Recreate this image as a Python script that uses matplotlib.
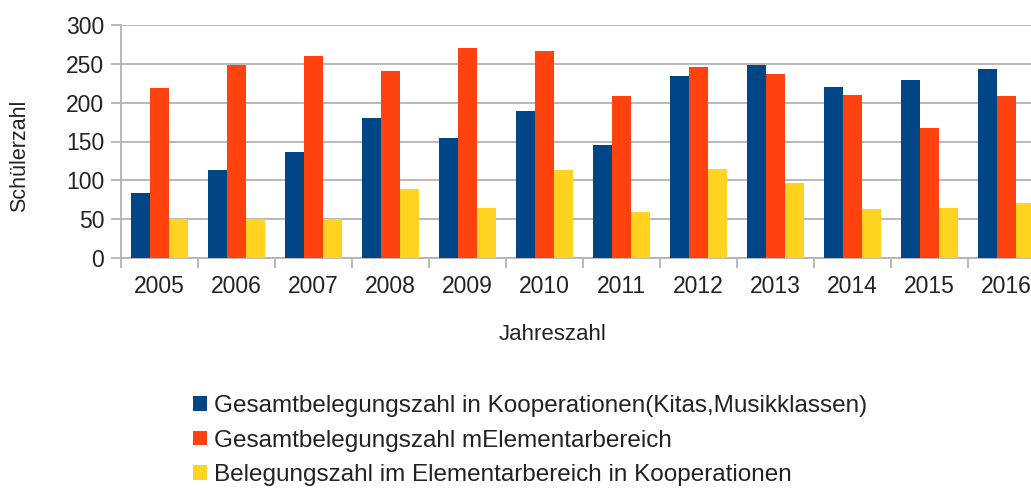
import matplotlib
matplotlib.use("Agg")
import matplotlib.pyplot as plt
import numpy as np
from matplotlib.patches import Patch

years = ["2005", "2006", "2007", "2008", "2009", "2010", "2011", "2012", "2013", "2014", "2015", "2016"]
gesamt_koop = [84, 113, 136, 180, 155, 189, 145, 234, 249, 220, 229, 243]
gesamt_elem = [219, 249, 260, 241, 270, 267, 208, 246, 237, 210, 167, 208]
elem_koop = [50, 50, 50, 89, 65, 113, 59, 115, 96, 63, 65, 71]
series_names = [
    "Gesamtbelegungszahl in Kooperationen(Kitas,Musikklassen)",
    "Gesamtbelegungszahl mElementarbereich",
    "Belegungszahl im Elementarbereich in Kooperationen",
]
colors = ["#004586", "#ff420e", "#ffd320"]

plt.rcParams["font.family"] = ["Liberation Sans", "DejaVu Sans"]
W, H = 1031, 488
fig = plt.figure(figsize=(W / 100, H / 100), dpi=100)
ax = fig.add_axes([121 / W, 1 - 258 / H, 924 / W, (258 - 25) / H])

x = np.arange(len(years))
bw = 0.245
for i, (vals, c) in enumerate(zip([gesamt_koop, gesamt_elem, elem_koop], colors)):
    ax.bar(x + (i - 1) * bw, vals, width=bw, color=c, zorder=3, label=series_names[i])

ax.set_xlim(-0.5, len(years) - 0.5)
ax.set_ylim(0, 300)
ax.set_yticks(range(0, 301, 50))
ax.yaxis.grid(True, color="#b3b3b3", linewidth=1.3, zorder=0)
ax.set_xticks(x)
ax.set_xticklabels(years)
ax.set_xticks(np.arange(-0.5, len(years), 1), minor=True)
ax.tick_params(axis="x", which="major", length=0, pad=12, labelsize=16.5, labelcolor="#222222")
ax.tick_params(axis="x", which="minor", length=7, width=1.3, color="#b3b3b3")
ax.tick_params(axis="y", length=7, width=1.3, color="#b3b3b3", pad=5, labelsize=16.5, labelcolor="#222222")
for s in ["top", "right"]:
    ax.spines[s].set_visible(False)
for s in ["left", "bottom"]:
    ax.spines[s].set_color("#b3b3b3")
    ax.spines[s].set_linewidth(1.3)
ax.spines["left"].set_bounds(0, 300)

fig.text(20 / W, 1 - 156 / H, "Schülerzahl", rotation=90, ha="center", va="center", fontsize=15.5, color="#222222")
fig.text(553 / W, 1 - 335 / H, "Jahreszahl", ha="center", va="center", fontsize=16, color="#222222")

handles = [Patch(facecolor=c, edgecolor="none") for c in colors]
leg = fig.legend(handles, series_names, loc="upper left", bbox_to_anchor=(193 / W, 1 - 395 / H),
                 frameon=False, fontsize=17.5, handlelength=0.58, handleheight=0.55, handletextpad=0.3,
                 labelspacing=0.52, borderaxespad=0, borderpad=0)
for t in leg.get_texts():
    t.set_color("#222222")

fig.savefig("out.png", dpi=100)
